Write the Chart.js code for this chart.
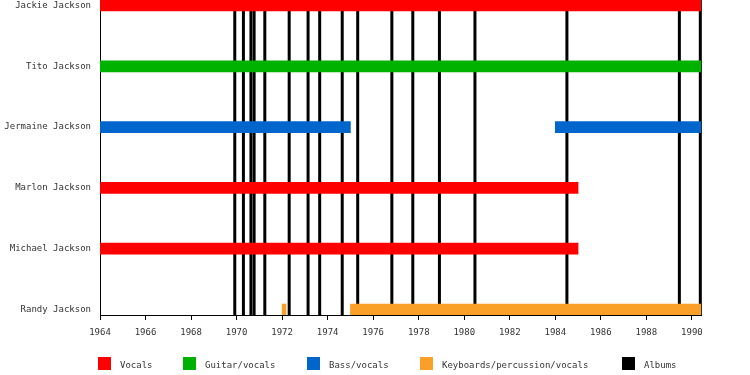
<!DOCTYPE html>
<html>
<head>
<meta charset="utf-8">
<script src="https://cdn.jsdelivr.net/npm/chart.js@4.4.1/dist/chart.umd.min.js"></script>
<style>
  body { margin: 0; background: #fff; }
  #wrap { position: relative; width: 750px; height: 375px; }
  #legend { position: absolute; left: 0; top: 357px; width: 750px; height: 16px;
            font: 9px "DejaVu Sans Mono", monospace; color: #333; }
  .item { position: absolute; top: 0; white-space: nowrap; }
  .box { position: absolute; left: 0; top: 0; width: 13px; height: 13px; }
  .txt { position: absolute; left: 22px; top: 2px; line-height: 13px; }
</style>
</head>
<body>
<div id="wrap">
  <canvas id="timeline"></canvas>
  <div id="legend"></div>
</div>
<script>
// band members, top to bottom
const members = ['Jackie Jackson', 'Tito Jackson', 'Jermaine Jackson',
                 'Marlon Jackson', 'Michael Jackson', 'Randy Jackson'];

const startYear = 1964;
const endYear = 1990.4;

// [from, till] per member, null where the member has no bar of that kind
const vocals       = [[1964, 1990.4], null, null, [1964, 1985.0], [1964, 1985.0], null];
const guitarVocals = [null, [1964, 1990.4], null, null, null, null];
const bassVocals   = [null, null, [1964, 1975.0], null, null, null];
const bassVocals2  = [null, null, [1984.0, 1990.4], null, null, null];
const keysVocals   = [null, null, null, null, null, [1972.0, 1972.17]];
const keysVocals2  = [null, null, null, null, null, [1975.0, 1990.4]];

// album release lines
const albums = [1969.92, 1970.30, 1970.63, 1970.77, 1971.24, 1972.31, 1973.14,
                1973.65, 1974.64, 1975.32, 1976.82, 1977.74, 1978.91, 1980.47,
                1984.51, 1989.45, 1990.37];

const legendNames = ['Vocals', 'Guitar/vocals', 'Bass/vocals', 'Keyboards/percussion/vocals', 'Albums'];
const legendColors = ['rgb(255,0,0)', 'rgb(0,178,0)', 'rgb(0,102,204)', 'rgb(250,160,40)', '#000'];
const legendLeft = [98, 183, 307, 420, 622];

const toPoints = arr => arr.map((v, i) => v ? { x: v, y: i } : null).filter(p => p);

const barSet = (label, arr, color) => ({
    label: label,
    data: toPoints(arr),
    backgroundColor: color,
    borderWidth: 0,
    borderSkipped: false,
    barThickness: 11,
    grouped: false
});

const albumLines = {
    id: 'albumLines',
    beforeDatasetsDraw(chart) {
        const { ctx, chartArea, scales } = chart;
        ctx.save();
        ctx.strokeStyle = '#000';
        ctx.lineWidth = 3;
        albums.forEach(a => {
            const px = scales.x.getPixelForValue(a);
            ctx.beginPath();
            ctx.moveTo(px, chartArea.top);
            ctx.lineTo(px, chartArea.bottom);
            ctx.stroke();
        });
        ctx.restore();
    }
};

const font = { family: '"DejaVu Sans Mono", monospace', size: 9 };

new Chart(document.getElementById('timeline'), {
    type: 'bar',
    data: {
        datasets: [
            barSet('Vocals', vocals, legendColors[0]),
            barSet('Guitar/vocals', guitarVocals, legendColors[1]),
            barSet('Bass/vocals', bassVocals, legendColors[2]),
            barSet('Bass/vocals', bassVocals2, legendColors[2]),
            barSet('Keyboards/percussion/vocals', keysVocals, legendColors[3]),
            barSet('Keyboards/percussion/vocals', keysVocals2, legendColors[3])
        ]
    },
    options: {
        indexAxis: 'y',
        responsive: true,
        maintainAspectRatio: false,
        animation: false,
        layout: { padding: { left: 0, right: 49, top: 0, bottom: 30 } },
        plugins: { legend: { display: false }, tooltip: { enabled: false } },
        scales: {
            x: {
                type: 'linear',
                min: startYear,
                max: endYear,
                ticks: {
                    stepSize: 2,
                    includeBounds: false,
                    autoSkip: false,
                    maxRotation: 0,
                    padding: 7,
                    color: '#333',
                    font: font,
                    callback: v => String(v)
                },
                grid: { display: true, drawOnChartArea: false, drawTicks: true, tickLength: 5, color: '#000' },
                border: { display: true, color: '#000', width: 1 },
                afterFit: s => { s.height = 30; s.paddingLeft = 0; s.paddingRight = 0; }
            },
            y: {
                type: 'linear',
                reverse: true,
                offset: false,
                min: -0.0905,
                max: 5.0904,
                ticks: {
                    stepSize: 1,
                    includeBounds: false,
                    autoSkip: false,
                    padding: 9,
                    color: '#333',
                    font: font,
                    callback: v => Number.isInteger(v) ? members[v] : null
                },
                grid: { display: false, drawTicks: false, offset: false },
                border: { display: true, color: '#000', width: 1 },
                afterFit: s => { s.width = 100; s.paddingTop = 0; s.paddingBottom = 0; }
            }
        }
    },
    plugins: [albumLines]
});

// legend under the chart
const legend = document.getElementById('legend');
legendNames.forEach((name, i) => {
    const item = document.createElement('div');
    item.className = 'item';
    item.style.left = legendLeft[i] + 'px';
    item.innerHTML = `<div class="box" style="background:${legendColors[i]}"></div><span class="txt">${name}</span>`;
    legend.appendChild(item);
});
</script>
</body>
</html>
